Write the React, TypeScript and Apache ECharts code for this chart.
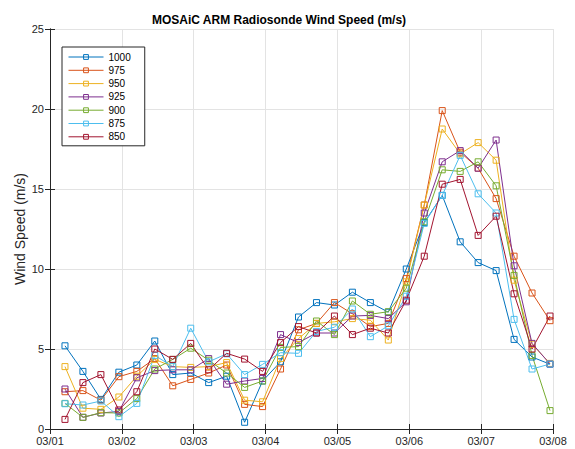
import React, { useEffect, useRef } from "react";
import * as echarts from "echarts";

// Radiosonde launch times (UTC), four a day
const launchTimes = [
  "2020-03-01T05:00", "2020-03-01T11:00", "2020-03-01T17:00", "2020-03-01T23:00",
  "2020-03-02T05:00", "2020-03-02T11:00", "2020-03-02T17:00", "2020-03-02T23:00",
  "2020-03-03T05:00", "2020-03-03T11:00", "2020-03-03T17:00", "2020-03-03T23:00",
  "2020-03-04T05:00", "2020-03-04T11:00", "2020-03-04T17:00", "2020-03-04T23:00",
  "2020-03-05T05:00", "2020-03-05T11:00", "2020-03-05T17:00", "2020-03-05T23:00",
  "2020-03-06T05:00", "2020-03-06T11:00", "2020-03-06T17:00", "2020-03-06T23:00",
  "2020-03-07T05:00", "2020-03-07T11:00", "2020-03-07T17:00", "2020-03-07T23:00",
];

const startDate = "2020-03-01T00:00";
const dayTickLabels = ["03/01", "03/02", "03/03", "03/04", "03/05", "03/06", "03/07", "03/08"];
const yTicks = [0, 5, 10, 15, 20, 25];

// Wind speed (m/s) per pressure level (hPa)
const levels = ["1000", "975", "950", "925", "900", "875", "850"];

const ws1000 = [5.2, 3.6, 1.85, 3.55, 4.0, 5.5, 3.4, 3.5, 2.9, 3.3, 0.42, 3.0, 4.2, 7.0, 7.9, 7.75, 8.55, 7.9, 7.3, 10.0, 12.9, 14.6, 11.7, 10.4, 9.9, 5.6, 4.5, 4.05];
const ws975 = [2.33, 2.4, 1.8, 3.27, 3.6, 4.4, 2.7, 3.1, 3.5, 4.0, 1.54, 1.4, 3.75, 6.2, 6.6, 7.9, 7.2, 6.4, 6.6, 9.4, 14.0, 19.9, 17.3, 16.3, 14.4, 10.8, 8.5, 6.77];
const ws950 = [3.9, 1.3, 1.23, 2.0, 3.3, 4.35, 3.9, 3.85, 3.9, 4.15, 1.8, 1.7, 4.4, 5.65, 6.6, 6.7, 6.9, 6.8, 5.56, 9.2, 14.0, 18.75, 17.2, 17.9, 16.8, 9.3, 5.3, 4.1];
const ws925 = [2.5, 0.73, 1.0, 1.1, 3.2, 3.65, 3.7, 3.7, 4.4, 2.8, 3.0, 3.16, 5.9, 5.4, 6.0, 6.0, 7.06, 7.1, 6.9, 7.95, 13.5, 16.7, 17.4, 16.3, 18.06, 10.2, 5.35, 4.06];
const ws900 = [1.6, 0.73, 1.02, 1.0, 1.9, 3.75, 4.35, 5.05, 4.3, 3.5, 2.6, 3.0, 5.1, 5.15, 6.75, 5.9, 8.0, 7.17, 7.33, 8.8, 12.95, 16.2, 16.1, 16.7, 15.2, 9.6, 4.6, 1.15];
const ws875 = [1.58, 1.5, 1.75, 0.77, 1.6, 4.6, 3.9, 6.3, 4.2, 4.7, 3.4, 4.04, 4.77, 4.73, 6.1, 6.36, 7.5, 5.77, 6.45, 8.3, 12.85, 14.6, 17.1, 14.7, 13.5, 6.85, 3.75, 4.06];
const ws850 = [0.6, 2.9, 3.4, 1.19, 2.33, 5.0, 4.35, 5.35, 3.7, 4.73, 4.37, 3.6, 5.4, 6.4, 6.0, 7.06, 5.9, 6.3, 6.0, 8.05, 10.8, 15.3, 15.6, 12.1, 13.3, 8.45, 5.0, 7.06];

const seriesValues = [ws1000, ws975, ws950, ws925, ws900, ws875, ws850];
const lineColors = ["#0072BD", "#D95319", "#EDB120", "#7E2F8E", "#77AC30", "#4DBEEE", "#A2142F"];

const DAY_MS = 86400000;
const toDays = (t: string) => (Date.parse(t) - Date.parse(startDate)) / DAY_MS;

const FONT = "'Liberation Sans', Arial, Helvetica, sans-serif";
const AXIS_COLOR = "#262626";

export default function App() {
  const ref = useRef<HTMLDivElement>(null);

  useEffect(() => {
    if (!ref.current) return;
    const chart = echarts.init(ref.current, undefined, { renderer: "svg" });
    const xs = launchTimes.map(toDays);

    const tickCommon = {
      axisLine: { show: true, lineStyle: { color: AXIS_COLOR, width: 1 } },
      axisTick: { show: true, inside: true, length: 5, lineStyle: { color: AXIS_COLOR } },
    };

    chart.setOption({
      animation: false,
      backgroundColor: "#ffffff",
      title: {
        text: "MOSAiC ARM Radiosonde Wind Speed (m/s)",
        left: 274,
        top: 9,
        textAlign: "center",
        textStyle: { fontFamily: FONT, fontSize: 12, fontWeight: "bold", color: "#000" },
      },
      legend: {
        data: levels,
        orient: "vertical",
        left: 62,
        top: 47,
        itemWidth: 35,
        itemHeight: 6,
        itemGap: 3.3,
        padding: [5, 14, 4, 6],
        backgroundColor: "#ffffff",
        borderColor: AXIS_COLOR,
        borderWidth: 1,
        borderRadius: 0,
        lineStyle: { width: 1 },
        itemStyle: { borderWidth: 1 },
        textStyle: { fontFamily: FONT, fontSize: 10, lineHeight: 10, color: "#000" },
      },
      grid: { left: 50, right: 22, top: 29, bottom: 20, containLabel: false },
      xAxis: [
        {
          type: "value",
          min: 0,
          max: 7,
          interval: 1,
          ...tickCommon,
          axisLabel: {
            fontFamily: FONT,
            fontSize: 11,
            color: AXIS_COLOR,
            margin: 6,
            formatter: (v: number) => dayTickLabels[Math.round(v)] ?? "",
          },
          splitLine: { show: true, lineStyle: { color: "#e3e3e3", width: 1 } },
        },
        {
          type: "value",
          position: "top",
          min: 0,
          max: 7,
          interval: 1,
          ...tickCommon,
          axisLabel: { show: false },
          splitLine: { show: false },
        },
      ],
      yAxis: [
        {
          type: "value",
          min: yTicks[0],
          max: yTicks[yTicks.length - 1],
          interval: 5,
          ...tickCommon,
          name: "Wind Speed (m/s)",
          nameLocation: "middle",
          nameGap: 23,
          nameMoveOverlap: false,
          nameTextStyle: { fontFamily: FONT, fontSize: 14, color: AXIS_COLOR },
          axisLabel: { fontFamily: FONT, fontSize: 11, color: AXIS_COLOR, margin: 6 },
          splitLine: { show: true, lineStyle: { color: "#e3e3e3", width: 1 } },
        },
        {
          type: "value",
          position: "right",
          min: yTicks[0],
          max: yTicks[yTicks.length - 1],
          interval: 5,
          ...tickCommon,
          axisLabel: { show: false },
          splitLine: { show: false },
        },
      ],
      series: levels.map((name, i) => ({
        name,
        type: "line",
        xAxisIndex: 0,
        yAxisIndex: 0,
        data: xs.map((x, j) => [x, seriesValues[i][j]]),
        symbol: "rect",
        symbolSize: 6,
        showSymbol: true,
        color: lineColors[i],
        lineStyle: { color: lineColors[i], width: 1 },
        itemStyle: { color: "rgba(255,255,255,0)", borderColor: lineColors[i], borderWidth: 1 },
        emphasis: { disabled: true },
      })),
    });

    return () => chart.dispose();
  }, []);

  return (
    <div
      ref={ref}
      style={{ position: "absolute", left: 0, top: 0, width: 575, height: 449 }}
    />
  );
}
